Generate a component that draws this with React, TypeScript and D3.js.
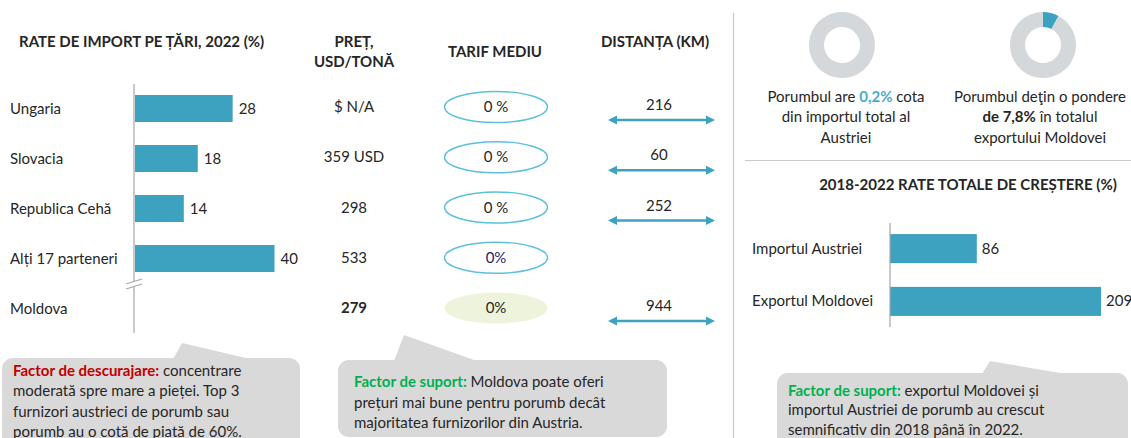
import React from 'react';
import * as d3 from 'd3';

// left table
const countries = ['Ungaria', 'Slovacia', 'Republica Cehă', 'Alți 17 parteneri', 'Moldova'];
const importShares = [28, 18, 14, 40, null];
const prices = ['$ N/A', '359 USD', '298', '533', '279'];
const tariffs = ['0 %', '0 %', '0 %', '0%', '0%'];
const distances = [216, 60, 252, null, 944];

// right side
const donutShares = [0.2, 7.8];
const growthLabels = ['Importul Austriei', 'Exportul Moldovei'];
const growthValues = [86, 209];

const W = 1131;
const H = 438;
const FONT = 'Lato, "Noto Sans", sans-serif';
const TEXT = '#262626';
const TEAL = '#3da2bf';
const GREY_BOX = '#d9d9d9';

const Callout = ({ x, y, w, h, tail, lines }) => (
  <g>
    <rect x={x} y={y} width={w} height={h} rx={11} fill={GREY_BOX} />
    <polygon points={tail.map((p) => p.join(',')).join(' ')} fill={GREY_BOX} />
    {lines}
  </g>
);

export default function App() {
  // bars for import shares
  const y = d3.scaleBand().domain(countries).range([84, 333]).paddingInner(0.46).paddingOuter(0.22);
  const x = d3.scaleLinear().domain([0, 40]).range([135, 274.5]);
  // table rows
  const row = d3.scalePoint().domain(countries).range([107, 308]);

  const gy = d3.scaleBand().domain(growthLabels).range([223, 327]).paddingInner(0.45).paddingOuter(0.21);
  const gx = d3.scaleLinear().domain([0, 209]).range([890, 1101]);

  const pie = d3.pie().sort(null).value((d) => d);
  const arc = d3.arc().innerRadius(18).outerRadius(33);
  const donutX = [842, 1043];

  const body = { fontFamily: FONT, fontSize: 15, fill: TEXT };
  const bold = { ...body, fontWeight: 700 };
  const head = { ...bold, fontSize: 15 };

  return (
    <svg width={W} height={H} style={{ position: 'absolute', left: 0, top: 0, background: '#fff' }}>
      {/* headers */}
      <text x={19} y={47} style={head}>RATE DE IMPORT PE ȚĂRI, 2022 (%)</text>
      <text x={354} y={47} textAnchor="middle" style={head}>PREȚ,</text>
      <text x={354} y={67} textAnchor="middle" style={head}>USD/TONĂ</text>
      <text x={495} y={57} textAnchor="middle" style={head}>TARIF MEDIU</text>
      <text x={655} y={47} textAnchor="middle" style={head}>DISTANȚA (KM)</text>

      {/* import bars */}
      {countries.map((c, i) => (
        <g key={c}>
          <text x={10} y={y(c) + y.bandwidth() / 2 + 5} style={body}>{c}</text>
          {importShares[i] != null && (
            <>
              <rect x={x(0)} y={y(c)} width={x(importShares[i]) - x(0)} height={y.bandwidth()} fill={TEAL} />
              <text x={x(importShares[i]) + 6} y={y(c) + y.bandwidth() / 2 + 5} style={body}>{importShares[i]}</text>
            </>
          )}
        </g>
      ))}
      <line x1={134} x2={134} y1={84} y2={333} stroke="#a6a6a6" strokeWidth={1.2} />
      <polygon points="126,284 142,279 142,284 126,289" fill="#fff" />
      <line x1={126} y1={284} x2={142} y2={279} stroke="#a6a6a6" strokeWidth={1.2} />
      <line x1={126} y1={289} x2={142} y2={284} stroke="#a6a6a6" strokeWidth={1.2} />

      {/* prices, tariffs, distances */}
      {countries.map((c, i) => (
        <g key={'t' + c}>
          <text x={354} y={row(c) + 5} textAnchor="middle" style={i === 4 ? bold : body}>{prices[i]}</text>
          <ellipse cx={496} cy={row(c)} rx={51.5} ry={15.5}
            fill={i === 4 ? '#eef3db' : 'none'} stroke={i === 4 ? 'none' : '#5cc0dc'} strokeWidth={1.4} />
          <text x={496} y={row(c) + 5} textAnchor="middle"
            style={{ ...body, fill: i === 3 ? '#1f2560' : TEXT }}>{tariffs[i]}</text>
          {distances[i] != null && (
            <g>
              <text x={659} y={row(c) + 3} textAnchor="middle" style={body}>{distances[i]}</text>
              <line x1={613} x2={710} y1={row(c) + 13} y2={row(c) + 13} stroke={TEAL} strokeWidth={2.5} />
              <polygon points={`608,${row(c) + 13} 617,${row(c) + 8.5} 617,${row(c) + 17.5}`} fill={TEAL} />
              <polygon points={`715,${row(c) + 13} 706,${row(c) + 8.5} 706,${row(c) + 17.5}`} fill={TEAL} />
            </g>
          )}
        </g>
      ))}

      {/* dividers */}
      <line x1={733.5} x2={733.5} y1={13} y2={H} stroke="#c8c8c8" strokeWidth={1.2} />
      <line x1={745} x2={W} y1={160.5} y2={160.5} stroke="#c8c8c8" strokeWidth={1.2} />

      {/* donuts */}
      {donutShares.map((s, i) => (
        <g key={'d' + i} transform={`translate(${donutX[i]},45)`}>
          {pie([s, 100 - s]).map((a, j) => (
            <path key={j} d={arc(a)} fill={j === 0 ? TEAL : '#d5d8da'} />
          ))}
        </g>
      ))}
      <text x={846} y={102} textAnchor="middle" style={body}>
        Porumbul are <tspan style={{ fill: '#4bacc6', fontWeight: 700 }}>{String(donutShares[0]).replace('.', ',')}%</tspan> cota
      </text>
      <text x={846} y={122} textAnchor="middle" style={body}>din importul total al</text>
      <text x={846} y={143} textAnchor="middle" style={body}>Austriei</text>
      <text x={1040} y={102} textAnchor="middle" style={body}>Porumbul deţin o pondere</text>
      <text x={1040} y={122} textAnchor="middle" style={body}>
        <tspan style={{ fontWeight: 700 }}>de {String(donutShares[1]).replace('.', ',')}%</tspan> în totalul
      </text>
      <text x={1040} y={143} textAnchor="middle" style={body}>exportului Moldovei</text>

      {/* growth bars */}
      <text x={968} y={190} textAnchor="middle" style={head}>2018-2022 RATE TOTALE DE CREȘTERE (%)</text>
      {growthLabels.map((g, i) => (
        <g key={g}>
          <text x={752} y={gy(g) + gy.bandwidth() / 2 + 5} style={body}>{g}</text>
          <rect x={gx(0)} y={gy(g)} width={gx(growthValues[i]) - gx(0)} height={gy.bandwidth()} fill={TEAL} />
          <text x={gx(growthValues[i]) + 5} y={gy(g) + gy.bandwidth() / 2 + 5} style={body}>{growthValues[i]}</text>
        </g>
      ))}
      <line x1={890} x2={890} y1={223} y2={327} stroke="#a6a6a6" strokeWidth={1.2} />

      {/* callouts */}
      <Callout x={2} y={358} w={298} h={100} tail={[[173, 359], [182, 343], [250, 359]]}
        lines={[
          <text key={1} x={13} y={376} style={body}><tspan style={{ fill: '#c00000', fontWeight: 700 }}>Factor de descurajare:</tspan> concentrare</text>,
          <text key={2} x={13} y={396} style={body}>moderată spre mare a pieței. Top 3</text>,
          <text key={3} x={13} y={416.5} style={body}>furnizori austrieci de porumb sau</text>,
          <text key={4} x={13} y={436.5} style={body}>porumb au o cotă de piată de 60%.</text>,
        ]} />
      <Callout x={338} y={360} w={329} h={77} tail={[[394, 361], [404, 335], [477, 361]]}
        lines={[
          <text key={1} x={354} y={386.5} style={body}><tspan style={{ fill: '#00b050', fontWeight: 700 }}>Factor de suport:</tspan> Moldova poate oferi</text>,
          <text key={2} x={354} y={407.5} style={body}>prețuri mai bune pentru porumb decât</text>,
          <text key={3} x={354} y={427.5} style={body}>majoritatea furnizorilor din Austria.</text>,
        ]} />
      <Callout x={777} y={373} w={351} h={90} tail={[[982, 374], [990, 361], [1066, 374]]}
        lines={[
          <text key={1} x={788} y={396} style={body}><tspan style={{ fill: '#00b050', fontWeight: 700 }}>Factor de suport:</tspan> exportul Moldovei și</text>,
          <text key={2} x={788} y={415} style={body}>importul Austriei de porumb au crescut</text>,
          <text key={3} x={788} y={434.5} style={body}>semnificativ din 2018 până în 2022.</text>,
        ]} />
    </svg>
  );
}
